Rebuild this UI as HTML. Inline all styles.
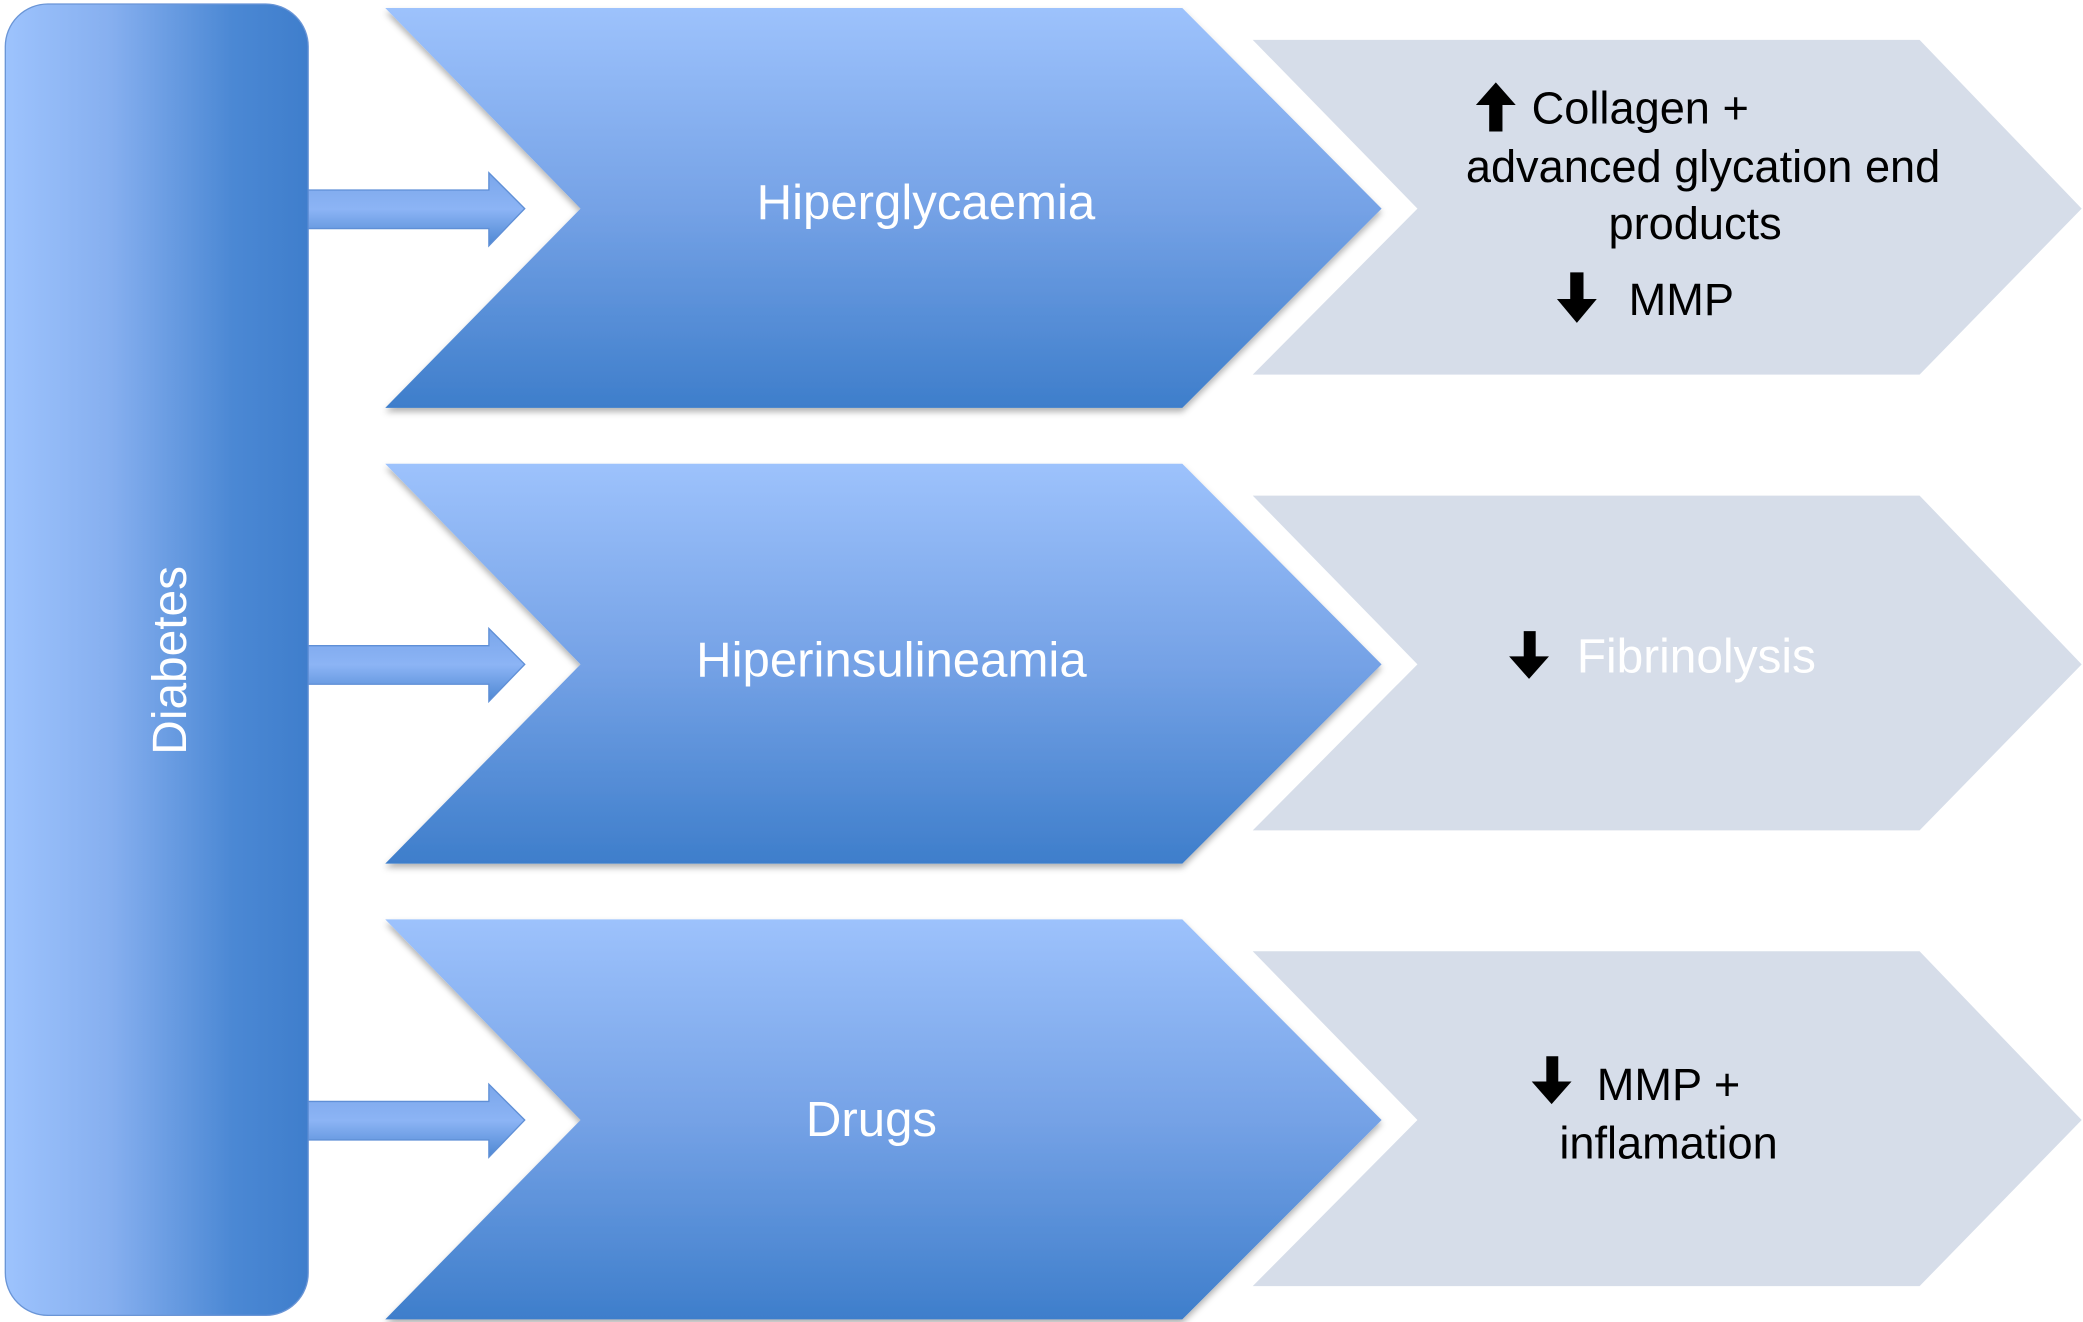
<!DOCTYPE html>
<html><head><meta charset="utf-8"><style>
html,body{margin:0;padding:0;background:#fff;}
svg{display:block;}
text{font-family:"Liberation Sans",Arial,sans-serif;}
</style></head><body>
<svg width="2083" height="1322" viewBox="0 0 1568 995" preserveAspectRatio="none" xmlns="http://www.w3.org/2000/svg">
<defs>
<linearGradient id="bar" x1="0" y1="0" x2="1" y2="0">
<stop offset="0" stop-color="#9dc3fd"/><stop offset="0.35" stop-color="#86afef"/><stop offset="0.75" stop-color="#4b88d4"/><stop offset="1" stop-color="#3f7ecc"/></linearGradient>
<linearGradient id="chev" x1="0" y1="0" x2="0" y2="1">
<stop offset="0" stop-color="#9dc2fc"/><stop offset="0.5" stop-color="#75a2e6"/><stop offset="1" stop-color="#3e7ecb"/></linearGradient>
<linearGradient id="arr" x1="0" y1="0" x2="0" y2="1">
<stop offset="0" stop-color="#7aa6ea"/><stop offset="0.5" stop-color="#8cb4f5"/><stop offset="1" stop-color="#4d87d2"/></linearGradient>
<filter id="sh" x="-5%" y="-5%" width="110%" height="115%"><feDropShadow dx="0" dy="3" stdDeviation="2.5" flood-color="#000" flood-opacity="0.3"/></filter>
</defs>
<rect x="4" y="3" width="228" height="987" rx="32" ry="32" fill="url(#bar)" stroke="#6a95d6" stroke-width="1"/>
<text transform="translate(140,497) rotate(-90)" text-anchor="middle" font-size="36" fill="#fff">Diabetes</text>

<g id="r1">
<polygon points="943,30 1445,30 1567,157 1445,282 943,282 1067,157" fill="#d6dde9"/>
<polygon points="290,6 890,6 1040,157 890,307 290,307 437,157" fill="url(#chev)" filter="url(#sh)"/>
<polygon points="232,143 368,143 368,130 395,157 368,185 368,172 232,172" fill="url(#arr)" stroke="#5f8fd6" stroke-width="1"/>
</g>
<g transform="translate(0,343)">
<polygon points="943,30 1445,30 1567,157 1445,282 943,282 1067,157" fill="#d6dde9"/>
<polygon points="290,6 890,6 1040,157 890,307 290,307 437,157" fill="url(#chev)" filter="url(#sh)"/>
<polygon points="232,143 368,143 368,130 395,157 368,185 368,172 232,172" fill="url(#arr)" stroke="#5f8fd6" stroke-width="1"/>
</g>
<g transform="translate(0,686)">
<polygon points="943,30 1445,30 1567,157 1445,282 943,282 1067,157" fill="#d6dde9"/>
<polygon points="290,6 890,6 1040,157 890,307 290,307 437,157" fill="url(#chev)" filter="url(#sh)"/>
<polygon points="232,143 368,143 368,130 395,157 368,185 368,172 232,172" fill="url(#arr)" stroke="#5f8fd6" stroke-width="1"/>
</g>

<text x="697" y="165" text-anchor="middle" font-size="37" fill="#fff">Hiperglycaemia</text>
<text x="671" y="509" text-anchor="middle" font-size="37" fill="#fff">Hiperinsulineamia</text>
<text x="656" y="855" text-anchor="middle" font-size="37" fill="#fff">Drugs</text>

<!-- row1 text -->
<polygon points="1126,62 1141,79 1131,79 1131,99 1121,99 1121,79 1111,79" fill="#000"/>
<text x="1153" y="93" font-size="34" fill="#000">Collagen  +</text>
<text x="1282" y="137" text-anchor="middle" font-size="34" fill="#000">advanced glycation end</text>
<text x="1276" y="180" text-anchor="middle" font-size="34" fill="#000">products</text>
<polygon points="1182,205 1192,205 1192,225 1202,225 1187,243 1172,225 1182,225" fill="#000"/>
<text x="1226" y="237" font-size="34" fill="#000">MMP</text>

<!-- row2 -->
<polygon points="1147,475 1156,475 1156,494 1166,494 1151,511 1136,494 1147,494" fill="#000"/>
<text x="1187" y="506" font-size="36" fill="#fff">Fibrinolysis</text>

<!-- row3 -->
<polygon points="1164,795 1173,795 1173,814 1183,814 1168,831 1153,814 1164,814" fill="#000"/>
<text x="1202" y="828" font-size="34" fill="#000">MMP +</text>
<text x="1256" y="872" text-anchor="middle" font-size="34" fill="#000">inflamation</text>
</svg>
</body></html>
